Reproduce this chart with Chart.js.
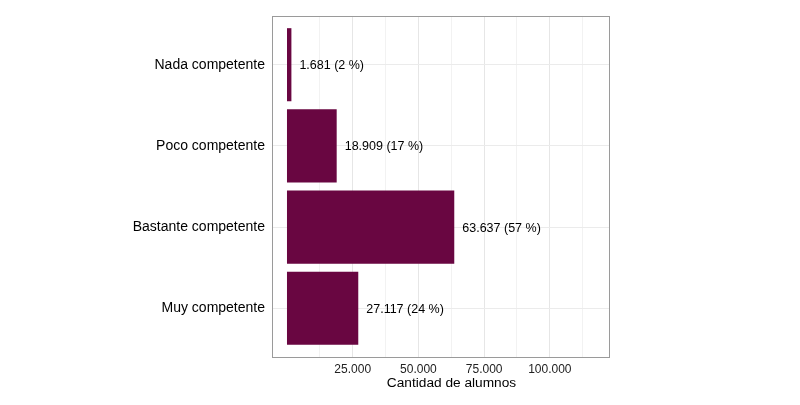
<!DOCTYPE html>
<html>
<head>
<meta charset="utf-8">
<script src="https://cdn.jsdelivr.net/npm/chart.js@4"></script>
<style>
  html, body { margin: 0; padding: 0; background: #ffffff; }
  #wrap { width: 800px; height: 405px; }
</style>
</head>
<body>
<div id="wrap"><canvas id="c" width="800" height="405"></canvas></div>
<script>
const categories = ["Nada competente", "Poco competente", "Bastante competente", "Muy competente"];
const counts = [1681, 18909, 63637, 27117];
const percents = [2, 17, 57, 24];
const xTickValues = [12500, 25000, 37500, 50000, 62500, 75000, 87500, 100000, 112500];
const xTickLabels = { 25000: "25.000", 50000: "50.000", 75000: "75.000", 100000: "100.000" };
const xTitle = "Cantidad de alumnos";

const fmt = n => n.toLocaleString('de-DE');
const points = counts.map((v, i) => ({ x: v, y: i + 1 }));

const FONT = "'Liberation Sans', Arial, sans-serif";

const boxPlugin = {
  id: 'box',
  afterDraw(chart) {
    const { ctx, chartArea: a } = chart;
    ctx.save();
    ctx.strokeStyle = '#9a9a9a';
    ctx.lineWidth = 1;
    ctx.strokeRect(Math.round(a.left) + 0.5, Math.round(a.top) + 0.5,
                   Math.round(a.right - a.left), Math.round(a.bottom - a.top));
    // x axis title
    ctx.font = "13.7px " + FONT;
    ctx.fillStyle = '#000000';
    ctx.textAlign = 'center';
    ctx.textBaseline = 'middle';
    ctx.fillText(xTitle, (a.left + a.right) / 2 + 11, a.bottom + 26);
    ctx.restore();
  }
};

const labelPlugin = {
  id: 'barLabels',
  afterDatasetsDraw(chart) {
    const { ctx } = chart;
    const meta = chart.getDatasetMeta(0);
    ctx.save();
    ctx.font = "12.5px " + FONT;
    ctx.fillStyle = '#000000';
    ctx.textAlign = 'left';
    ctx.textBaseline = 'middle';
    meta.data.forEach((bar, i) => {
      ctx.fillText(fmt(counts[i]) + " (" + percents[i] + " %)", bar.x + 8, bar.y + 1);
    });
    ctx.restore();
  }
};

new Chart(document.getElementById('c'), {
  type: 'bar',
  data: {
    datasets: [{
      data: points,
      backgroundColor: '#690641',
      borderWidth: 0,
      barPercentage: 0.9,
      categoryPercentage: 1.0
    }]
  },
  options: {
    indexAxis: 'y',
    responsive: false,
    animation: false,
    layout: { padding: { left: 0, right: 191, top: 16, bottom: 0 } },
    plugins: { legend: { display: false }, tooltip: { enabled: false } },
    scales: {
      x: {
        type: 'linear',
        min: -5700,
        max: 122500,
        afterBuildTicks: s => { s.ticks = xTickValues.map(v => ({ value: v })); },
        afterFit: s => { s.height = 48; },
        grid: {
          color: ctx => (ctx.tick && xTickLabels[ctx.tick.value]) ? '#e6e6e6' : '#f2f2f2',
          drawTicks: false
        },
        border: { display: false },
        ticks: {
          autoSkip: false,
          maxRotation: 0,
          padding: 5,
          color: '#222222',
          font: { family: FONT, size: 12 },
          callback: v => xTickLabels[v] || ''
        },
        title: { display: false }
      },
      y: {
        type: 'linear',
        reverse: true,
        offset: false,
        min: 0.4,
        max: 4.6,
        afterBuildTicks: s => { s.ticks = categories.map((c, i) => ({ value: i + 1 })); },
        afterFit: s => { s.width = 272; },
        grid: { color: '#ebebeb', drawTicks: false, offset: false },
        border: { display: false },
        ticks: {
          padding: 7,
          color: '#000000',
          font: { family: FONT, size: 14 },
          callback: v => categories[v - 1] || ''
        }
      }
    }
  },
  plugins: [labelPlugin, boxPlugin]
});
</script>
</body>
</html>
